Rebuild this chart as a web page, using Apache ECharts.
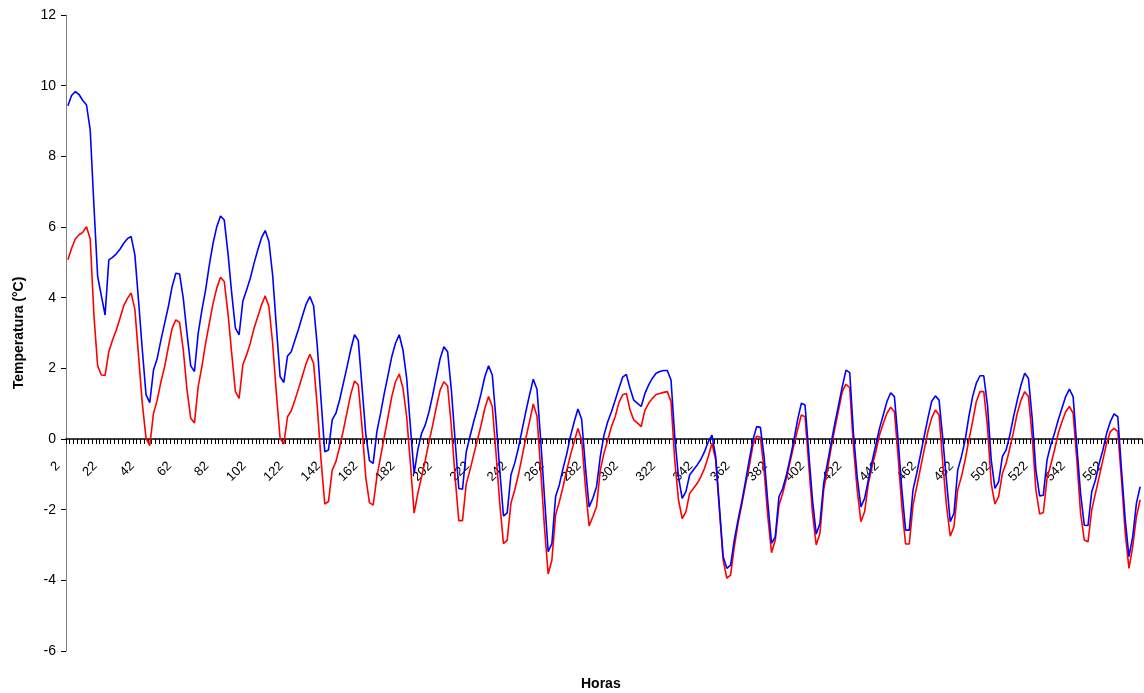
<!DOCTYPE html>
<html>
<head>
<meta charset="utf-8">
<script src="https://cdn.jsdelivr.net/npm/echarts@6/dist/echarts.min.js"></script>
<style>
  html, body { margin: 0; padding: 0; background: #fff; }
  #d_chart { width: 1144px; height: 693px; }
</style>
</head>
<body>
<div id="d_chart"></div>
<script>
// horas: 2, 4, 6 ... 578 (one reading every 2 h)
var horas = []
for (var h = 2; h <= 578; h += 2) horas.push(String(h))

var yTicks = [-6, -4, -2, 0, 2, 4, 6, 8, 10, 12]

// upper curve (blue)
var serieAzul = [
  9.43, 9.72, 9.83, 9.75, 9.58, 9.46, 8.75, 6.6, 4.6, 4.05, 3.51, 5.07,
  5.14, 5.24, 5.37, 5.54, 5.67, 5.73, 5.21, 3.89, 2.52, 1.25, 1.03, 1.95,
  2.28, 2.8, 3.28, 3.75, 4.31, 4.69, 4.67, 3.98, 2.99, 2.07, 1.91, 2.99,
  3.65, 4.22, 4.93, 5.54, 6.01, 6.31, 6.2, 5.26, 4.13, 3.14, 2.95, 3.9,
  4.22, 4.55, 4.97, 5.35, 5.69, 5.9, 5.59, 4.64, 3.18, 1.77, 1.6, 2.35,
  2.47, 2.8, 3.13, 3.48, 3.82, 4.03, 3.77, 2.62, 1.11, -0.36, -0.31, 0.54,
  0.73, 1.11, 1.58, 2.05, 2.54, 2.95, 2.79, 1.49, 0.16, -0.61, -0.69, 0.21,
  0.73, 1.3, 1.81, 2.33, 2.71, 2.95, 2.52, 1.72, 0.35, -0.98, -0.3, 0.16,
  0.4, 0.77, 1.25, 1.77, 2.28, 2.61, 2.47, 1.39, -0.03, -1.4, -1.42, -0.36,
  0.07, 0.49, 0.87, 1.29, 1.77, 2.07, 1.81, 0.54, -0.88, -2.18, -2.09, -1.02,
  -0.69, -0.26, 0.26, 0.77, 1.25, 1.69, 1.41, -0.03, -1.63, -3.19, -2.96, -1.63,
  -1.3, -0.83, -0.42, 0.08, 0.49, 0.85, 0.56, -0.78, -1.92, -1.68, -1.35, -0.5,
  0.11, 0.49, 0.77, 1.1, 1.43, 1.75, 1.83, 1.43, 1.1, 1.01, 0.92, 1.29,
  1.53, 1.72, 1.86, 1.91, 1.94, 1.94, 1.67, 0.07, -1.07, -1.68, -1.49, -1.02,
  -0.88, -0.74, -0.58, -0.36, -0.08, 0.11, -0.5, -1.92, -3.33, -3.66, -3.57, -2.86,
  -2.29, -1.77, -1.21, -0.6, -0.03, 0.35, 0.33, -0.5, -1.8, -2.95, -2.77, -1.63,
  -1.4, -1.02, -0.55, -0.03, 0.54, 1.01, 0.96, -0.4, -1.73, -2.69, -2.39, -1.26,
  -0.69, -0.12, 0.44, 0.96, 1.48, 1.95, 1.88, 0.16, -1.07, -1.92, -1.68, -1.16,
  -0.64, -0.17, 0.3, 0.68, 1.06, 1.31, 1.2, -0.03, -1.44, -2.58, -2.58, -1.44,
  -0.97, -0.45, 0.07, 0.59, 1.06, 1.22, 1.1, 0.0, -1.2, -2.34, -2.1, -0.88,
  -0.5, -0.03, 0.63, 1.2, 1.58, 1.79, 1.79, 0.96, -0.59, -1.4, -1.21, -0.5,
  -0.31, 0.11, 0.63, 1.1, 1.53, 1.86, 1.72, 0.59, -0.88, -1.61, -1.59, -0.59,
  -0.17, 0.16, 0.54, 0.87, 1.2, 1.41, 1.2, -0.21, -1.54, -2.44, -2.45, -1.49,
  -1.16, -0.69, -0.31, 0.16, 0.49, 0.71, 0.63, -0.88, -2.29, -3.33, -2.77, -1.82,
  -1.35
]

// lower curve (red)
var serieRoja = [
  5.07, 5.4, 5.66, 5.78, 5.85, 6.01, 5.66, 3.5, 2.07, 1.81, 1.8, 2.47,
  2.8, 3.08, 3.42, 3.77, 3.98, 4.13, 3.67, 2.33, 1.0, 0.02, -0.19, 0.73,
  1.1, 1.62, 2.05, 2.61, 3.13, 3.37, 3.3, 2.52, 1.39, 0.59, 0.45, 1.48,
  2.05, 2.71, 3.28, 3.84, 4.27, 4.58, 4.46, 3.56, 2.43, 1.34, 1.15, 2.1,
  2.38, 2.71, 3.13, 3.46, 3.79, 4.05, 3.75, 2.71, 1.29, 0.02, -0.14, 0.63,
  0.8, 1.11, 1.44, 1.79, 2.14, 2.4, 2.14, 0.91, -0.59, -1.84, -1.77, -0.88,
  -0.64, -0.22, 0.25, 0.77, 1.27, 1.64, 1.53, 0.35, -1.07, -1.8, -1.87, -1.07,
  -0.5, 0.07, 0.63, 1.2, 1.62, 1.84, 1.44, 0.63, -0.69, -2.1, -1.54, -1.07,
  -0.6, -0.08, 0.4, 0.92, 1.39, 1.62, 1.5, 0.35, -1.07, -2.31, -2.31, -1.27,
  -0.88, -0.45, -0.03, 0.4, 0.87, 1.2, 0.92, -0.41, -1.82, -2.96, -2.86, -1.82,
  -1.45, -1.02, -0.5, 0.02, 0.49, 0.99, 0.65, -0.88, -2.48, -3.82, -3.43, -2.15,
  -1.78, -1.35, -0.88, -0.45, -0.08, 0.3, -0.03, -1.35, -2.46, -2.2, -1.92, -0.88,
  -0.4, -0.03, 0.35, 0.63, 1.03, 1.25, 1.29, 0.82, 0.54, 0.45, 0.35, 0.82,
  1.01, 1.15, 1.26, 1.29, 1.32, 1.34, 1.06, -0.6, -1.72, -2.25, -2.06, -1.54,
  -1.4, -1.26, -1.07, -0.83, -0.5, -0.12, -0.6, -2.01, -3.43, -3.94, -3.85, -3.05,
  -2.39, -1.87, -1.3, -0.78, -0.17, 0.08, 0.05, -0.88, -2.2, -3.22, -2.86, -1.87,
  -1.54, -1.11, -0.64, -0.17, 0.27, 0.68, 0.63, -0.74, -2.1, -3.0, -2.67, -1.44,
  -0.88, -0.26, 0.3, 0.82, 1.34, 1.55, 1.45, -0.22, -1.44, -2.34, -2.06, -1.26,
  -0.78, -0.36, 0.11, 0.44, 0.73, 0.9, 0.77, -0.5, -1.92, -2.97, -2.97, -1.87,
  -1.35, -0.83, -0.31, 0.21, 0.59, 0.82, 0.68, -0.7, -1.9, -2.75, -2.48, -1.44,
  -1.07, -0.59, -0.03, 0.49, 1.06, 1.34, 1.34, 0.35, -1.26, -1.84, -1.63, -0.97,
  -0.69, -0.26, 0.21, 0.73, 1.1, 1.34, 1.2, 0.07, -1.44, -2.12, -2.08, -1.11,
  -0.73, -0.31, 0.16, 0.49, 0.77, 0.92, 0.73, -0.59, -2.1, -2.86, -2.91, -2.01,
  -1.54, -1.07, -0.59, -0.12, 0.21, 0.3, 0.21, -1.16, -2.67, -3.66, -3.05, -2.2,
  -1.72
]

var chart = echarts.init(document.getElementById('d_chart'))
var fontName = 'Liberation Sans'
var option = {
  animation: false,
  backgroundColor: '#fff',
  grid: {
    left: 66,
    right: 2,
    top: 15,
    bottom: 42,
    containLabel: false
  },
  graphic: [{
    type: 'text',
    left: 581,
    top: 677,
    style: {
      text: 'Horas',
      font: 'bold 14px ' + fontName,
      fill: '#000'
    }
  }],
  xAxis: {
    type: 'category',
    data: horas,
    boundaryGap: true,
    axisLine: {
      onZero: true,
      lineStyle: { color: '#000', width: 1.5 }
    },
    axisTick: {
      show: true,
      interval: 0,
      length: 5,
      lineStyle: { color: '#000', width: 1 }
    },
    axisLabel: {
      interval: 9,
      rotate: 45,
      // labels stay at the grid bottom, pull them up under the zero line
      margin: -197,
      padding: [0, 14, 0, 0],
      color: '#000',
      fontFamily: fontName,
      fontSize: 13
    },
    splitLine: { show: false }
  },
  yAxis: {
    type: 'value',
    min: yTicks[0],
    max: yTicks[yTicks.length - 1],
    interval: 2,
    name: 'Temperatura (°C)',
    nameLocation: 'middle',
    nameGap: 40,
    nameTextStyle: {
      color: '#000',
      fontFamily: fontName,
      fontSize: 14,
      fontWeight: 'bold'
    },
    axisLine: {
      show: true,
      lineStyle: { color: '#808080', width: 1 }
    },
    axisTick: {
      show: true,
      length: 5,
      lineStyle: { color: '#000' }
    },
    axisLabel: {
      margin: 10,
      color: '#000',
      fontFamily: fontName,
      fontSize: 14
    },
    splitLine: { show: false }
  },
  series: [{
    name: 'roja',
    type: 'line',
    data: serieRoja,
    showSymbol: false,
    symbol: 'none',
    lineStyle: { color: '#FF0000', width: 1.6 },
    itemStyle: { color: '#FF0000' },
    z: 2
  }, {
    name: 'azul',
    type: 'line',
    data: serieAzul,
    showSymbol: false,
    symbol: 'none',
    lineStyle: { color: '#0000FF', width: 1.6 },
    itemStyle: { color: '#0000FF' },
    z: 3
  }]
}
chart.setOption(option, true)
window.addEventListener('resize', function () {
  chart.resize()
})
</script>
</body>
</html>
